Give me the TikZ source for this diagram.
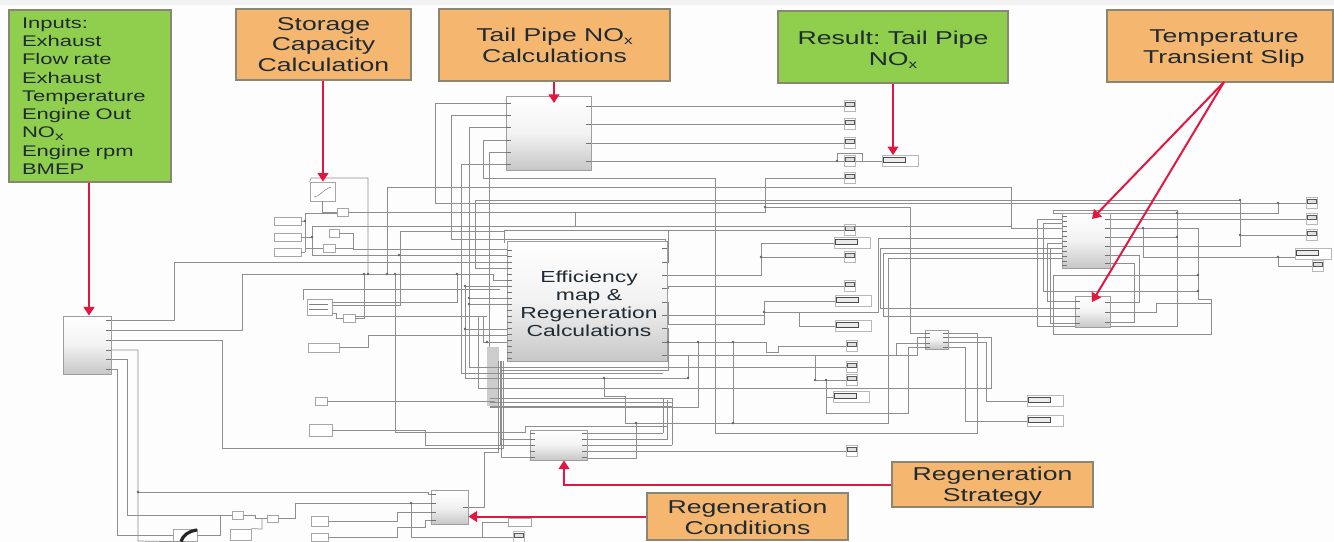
\documentclass[tikz,border=0pt]{standalone}
\usepackage{fontspec}
\usetikzlibrary{arrows.meta}
\setmainfont{Liberation Sans}
\newfontfamily\lab[FakeStretch=1.43]{Liberation Sans}
\definecolor{orangebox}{HTML}{F5B76F}
\definecolor{greenbox}{HTML}{90CF4E}
\definecolor{edgebox}{HTML}{8A8672}
\definecolor{redarrow}{HTML}{E2163F}
\definecolor{wiregrey}{HTML}{8E8E8E}
\definecolor{inkdark}{HTML}{1F2A33}
\definecolor{pagebg}{HTML}{FDFDFD}
\newcommand{\subx}{\raisebox{-0.35ex}{\fontsize{9}{9}\selectfont x}}
\newcommand{\boxat}[7]{%
  \pgfmathsetmacro\bw{(#4-#2)*0.75}\pgfmathsetmacro\bh{(#5-#3)*0.75}%
  \node[#6,minimum width=\bw pt,minimum height=\bh pt,inner sep=0pt] (#1) at ({(#2+#4)/2},{(#3+#5)/2}) {#7};}
\newcommand{\sink}[3]{\node[sinksm] (#1) at (#2,#3) {};}
\newcommand{\sinkw}[3]{\node[sinkwd,anchor=west] (#1) at (#2,#3) {};}
\newcommand{\ticksleft}[2]{\foreach \ty in {#2} \draw[porttick] (#1,\ty) -- ++(5,0);}
\newcommand{\ticksright}[2]{\foreach \ty in {#2} \draw[porttick] (#1,\ty) -- ++(-5,0);}
\tikzset{
  label box/.style={draw=edgebox,line width=0.9pt,text=inkdark,align=center,font=\lab\fontsize{13.95}{15.6}\selectfont},
  orange box/.style={label box,fill=orangebox},
  green box/.style={label box,fill=greenbox},
  block/.style={draw=black!38,line width=0.6pt,top color=white,bottom color=black!22,middle color=white!95!black},
  smallbox/.style={draw=black!35,line width=0.5pt,fill=white},
  wire/.style={draw=wiregrey,line width=0.55pt},
  porttick/.style={draw=black!55,line width=0.5pt},
  redline/.style={draw=redarrow,line width=1.5pt,-{Triangle[length=6.5pt,width=8pt]}},
  sinksm/.style={draw=black!28,line width=0.5pt,fill=white,minimum width=8.25pt,minimum height=8.25pt,inner sep=0pt,
    path picture={\draw[black!65,fill=black!12,line width=0.5pt] ([xshift=0.8pt,yshift=-1.2pt]path picture bounding box.north west) rectangle ([xshift=-0.8pt,yshift=-4pt]path picture bounding box.north east);}},
  sinkwd/.style={draw=black!28,line width=0.5pt,fill=white,minimum width=27pt,minimum height=8.25pt,inner sep=0pt,
    path picture={\draw[black!70,fill=black!8,line width=0.6pt] ([xshift=0.6pt,yshift=-1.6pt]path picture bounding box.north west) rectangle ([xshift=-10pt,yshift=-5pt]path picture bounding box.north east);}},
  junction/.style={fill=black!60,draw=none,circle,minimum size=2pt,inner sep=0pt}
}
\begin{document}
\begin{tikzpicture}[x=0.75pt,y=-0.75pt]
\useasboundingbox (0,0) rectangle (1334,542);
\fill[pagebg] (0,0) rectangle (1334,542);
\fill[black!5] (0,0) rectangle (1334,5);

% ---- port coordinates
\foreach \n/\y in {1/103,2/115,3/127,4/140,5/152,6/164} \coordinate (tbi\n) at (506,\y);
\foreach \n/\y in {1/106,2/124,3/143,4/161} \coordinate (tbo\n) at (591,\y);
\foreach \n/\y in {1/320,2/330,3/340,4/350,5/359,6/369} \coordinate (ao\n) at (111,\y);
\foreach \n/\y in {1/248,2/262,3/275,4/288,5/302,6/315,7/328,8/342,9/355} \coordinate (co\n) at (664,\y);
\foreach \n/\y in {1/433,2/439,3/445,4/451,5/458} \coordinate (do\n) at (587,\y);
\foreach \n/\y in {1/333,2/337,3/342,4/347} \coordinate (ho\n) at (948,\y);
\foreach \n/\y in {1/333,2/337,3/343,4/347} \coordinate (hi\n) at (925,\y);
\foreach \n/\y in {1/213,2/219,3/228,4/237,5/246,6/255,7/263} \coordinate (fo\n) at (1110,\y);
\foreach \n/\y in {1/302,2/312,3/322} \coordinate (go\n) at (1110,\y);
\foreach \n/\y in {1/301,2/308,3/316,4/323} \coordinate (gi\n) at (1075,\y);
\foreach \n/\y in {1/213,2/219,3/223,4/228,5/238,6/243,7/248,8/253,9/258} \coordinate (fi\n) at (1062,\y);
\foreach \n/\y in {1/494,2/503,3/512,4/520} \coordinate (ei\n) at (431,\y);
\coordinate (eo) at (468,507);

% ---- small source boxes and sinks
\boxat{look1}{310}{182}{335}{201}{smallbox}{}
\boxat{look2}{307}{299}{332}{315}{smallbox}{}
\boxat{m1}{337}{208}{348}{216}{smallbox}{}
\boxat{m2}{329}{229}{339}{237}{smallbox}{}
\boxat{m3}{323}{244}{335}{252}{smallbox}{}
\boxat{m4}{343}{314}{355}{322}{smallbox}{}
\boxat{c1}{274}{217}{301}{225}{smallbox}{}
\boxat{c2}{274}{233}{301}{241}{smallbox}{}
\boxat{c3}{274}{248}{301}{256}{smallbox}{}
\boxat{c4}{308}{343}{339}{352}{smallbox}{}
\boxat{c5}{315}{397}{327}{405}{smallbox}{}
\boxat{c6}{309}{424}{332}{436}{smallbox}{}
\boxat{b1}{232}{511}{243}{519}{smallbox}{}
\boxat{b2}{267}{515}{278}{522}{smallbox}{}
\boxat{b3}{230}{529}{251}{540}{smallbox}{}
\boxat{b4}{311}{516}{328}{526}{smallbox}{}
\boxat{b5}{311}{533}{328}{541}{smallbox}{}
\boxat{b6}{508}{518}{531}{526}{smallbox}{}
\boxat{scope}{173}{529}{197}{541.5}{smallbox}{}
\sink{s1}{850}{106}\sink{s2}{850}{124}\sink{s3}{850}{143}\sink{s4}{850}{161}\sink{s5}{850}{178}
\sink{s6}{850}{230}\sink{s7}{850}{257}\sink{s8}{850}{286}\sink{s9}{852}{346}\sink{s10}{852}{367}\sink{s11}{852}{380}\sink{s12}{852}{451}
\sinkw{w0}{882}{161}\sinkw{w1}{834}{243}\sinkw{w2}{835}{301}\sinkw{w3}{835}{326}\sinkw{w4}{833}{397}
\sinkw{w5}{1027}{401}\sinkw{w6}{1027}{421}\sinkw{w7}{1295}{254}
\sink{r1}{1312}{203}\sink{r2}{1312}{219}\sink{r3}{1312}{235}\sink{r4}{1318}{266}\sink{b7}{519}{537}

% ---- thick bundle under the large block
\fill[black!20] (487,347) rectangle (499,406);

% ---- wires of block B
\draw[wire] (tbi1) -| (435,203) -- (r1);
\draw[wire] (tbi2) -| (451,239) -- (665,239) -- (665,248) -- (co1);
\draw[wire] (tbi3) -| (469,367) -- (s10);
\draw[wire] (tbi4) -| (483,178) -- (715,178) -- (715,433) -- (977,433) -- (977,333) -- (ho1);
\draw[wire] (tbi5) -| (489,347);
\draw[wire] (tbi6) -| (461,373) -- (663,373);
\draw[wire] (tbo1) -- (s1);
\draw[wire] (tbo2) -- (s2);
\draw[wire] (tbo3) -- (s3);
\draw[wire] (tbo4) -- (s4);
\draw[wire] (s4.east) -- (w0);
\draw[wire] (837,161) -- (837,153) -- (862,153) -- (862,161);
% ---- long horizontal buses
\draw[wire] (387,274) -- (387,187) -- (1011,187) -- (1011,228) -- (1198,228) -- (1198,299) -- (1211,299) -- (1211,334) -- (1053,334) -- (1053,275) -- (1198,275);
\draw[wire] (475,268) -- (475,200) -- (1240,200) -- (1240,246) -- (fo5);
\draw[wire] (475,268) -- (507,268);
\draw[wire] (765,207) -- (910,207) -- (910,333) -- (hi1);
\draw[wire] (m1) -- (765,212) -- (765,178) -- (s5);
\draw[wire] (575,212) -- (575,226);
\draw[wire] (312,226) -- (1011,226);
\draw[wire] (504,243) -- (504,230) -- (668,230) -- (668,262) -- (co2);
\draw[wire] (668,230) -- (s6);
% ---- left part, storage capacity
\draw[wire] (look1.north west) -- (311,178) -- (368,178) -- (368,274);
\draw[wire] (look1.south) |- (m1);
\draw[wire] (c1) -- (305,221);
\draw[wire] (305,252) -- (305,213) -- (337,213);
\draw[wire] (c3) -- (305,252);
\draw[wire] (c2) -- (312,237);
\draw[wire] (312,226) -- (312,255) -- (507,255);
\draw[wire] (m2) -- (353,233) -- (353,249) -- (507,249);
\draw[wire] (m3) -- (353,248);
\draw[wire] (305,248) -- (m3);
\draw[wire] (ao1) -| (174,262) -- (507,262);
\draw[wire] (ao2) -| (242,274) -- (493,274) -- (493,280) -- (507,280);
\draw[wire] (ao3) -| (222,448) -- (503,448) -- (503,361);
\draw[wire] (ao4) -| (138,541) -- (scope.south);
\draw[wire] (138,492) -- (428,492) -- (428,494) -- (ei1);
\draw[wire] (ao5) -| (127,515) -- (b1);
\draw[wire] (ao6) -| (117,535.25) -- (scope);
\draw[wire] (457,274) -- (457,302) -- (332,302);
\draw[wire] (364,274) -- (364,318) -- (m4);
\draw[wire] (395,274) -- (395,432) -- (525,432) -- (525,426) -- (667,426) -- (667,400);
\draw[wire] (c6) -- (425,430) -- (425,445) -- (500,445) -- (500,361);
\draw[wire] (303,300) -- (303,289) -- (500,289);
\draw[wire] (332,305) -- (400,305) -- (400,231) -- (504,231);
\draw[wire] (332,313) -- (336,313) -- (336,318) -- (m4);
\draw[wire] ([yshift=1.5pt]m4.east) -- (487,316);
\draw[wire] (478,316) -- (478,388) -- (991,388) -- (991,337) -- (ho2);
\draw[wire] (483,316) -- (483,342) -- (507,342);
\draw[wire] (c4) -| (368,335) -- (507,335);
\draw[wire] (c5) -- (495,401);
\draw[wire] (465,286) -- (465,378) -- (688,378) -- (688,355);
\draw[wire] (465,286) -- (507,286);
\draw[wire] (469,298) -- (507,298);
\draw[wire] (469,304) -- (507,304);
\draw[wire] (465,329) -- (507,329);
\draw[wire] (501,361) -- (501,457) -- (530,457);
\foreach \yy in {398,402,406} \draw[wire] (490,\yy) -- (672,\yy);
\draw[wire] (672,398) -- (672,445);
\draw[wire] (663,398) -- (663,433);
% ---- block D
\draw[wire] (do1) -- (663,433);
\draw[wire] (do2) -- (667,439) -- (667,400);
\draw[wire] (do3) -- (672,445);
\draw[wire] (do4) -- (s12);
\draw[wire] (do5) -- (636,458) -- (636,423);
\draw[wire] (604,378) -- (604,396) -- (625,396) -- (625,423) -- (888,423) -- (888,258) -- (fi9);
\draw[wire] (733,423) -- (733,342);
\draw[wire] (698,342) -- (698,407) -- (490,407);
\draw[wire] (eo) -| (484,452) -- (498,452) -- (498,361);
\draw[wire] (500,439) -- (530,439);
\draw[wire] (500,445) -- (530,445);
% ---- outputs of large block C
\draw[wire] (co3) -- (761,275) -- (761,243) -- (w1);
\draw[wire] (761,257) -- (s7);
\draw[wire] (co4) -- (668,288) -- (668,286) -- (s8);
\draw[wire] (co5) -- (668,302) -- (668,324) -- (764,324) -- (764,301) -- (w2);
\draw[wire] (co6) -- (764,315);
\draw[wire] (764,312) -- (878,312) -- (878,238) -- (fi5);
\draw[wire] (799,312) -- (799,326) -- (w3);
\draw[wire] (co7) -- (668,328) -- (668,370) -- (500,370);
\draw[wire] (co8) -- (766,342) -- (766,352) -- (778,352) -- (778,346) -- (s9);
\draw[wire] (co9) -- (815,355) -- (815,380) -- (s11);
\draw[wire] (815,355) -- (896,355) -- (896,343) -- (hi3);
\draw[wire] (896,355) -- (917,355) -- (917,337) -- (hi2);
\draw[wire] (826,380) -- (826,413) -- (908,413) -- (908,347) -- (hi4);
\draw[wire] (826,397) -- (w4);
\draw[wire] (ho3) -- (986,342) -- (986,401) -- (w5);
\draw[wire] (ho4) -- (965,347) -- (965,421) -- (w6);
% ---- right-hand part
\draw[wire] (880,308) -- (880,248) -- (fi7);
\draw[wire] (880,308) -- (gi2);
\draw[wire] (883,316) -- (883,253) -- (fi8);
\draw[wire] (883,316) -- (gi3);
\draw[wire] (fi1) -- (1053,213) -- (1053,210) -- (1177,210) -- (1177,326) -- (1037,326) -- (1037,219) -- (fi2);
\draw[wire] (fo1) -- (1278,213) -- (1278,203);
\draw[wire] (fo2) -- (r2);
\draw[wire] (1240,235) -- (r3);
\draw[wire] (fo3) -- (1143,228) -- (1143,257) -- (1295,257);
\draw[wire] (1278,257) -- (1278,266) -- (r4);
\draw[wire] (fo4) -- (1177,237);
\draw[wire] (fo6) -- (1139,255) -- (1139,302) -- (go1);
\draw[wire] (fo7) -- (1134,263) -- (1134,322) -- (go3);
\draw[wire] (1043,291) -- (1198,291);
\draw[wire] (1043,291) -- (1043,223) -- (fi3);
\draw[wire] (1047,243) -- (fi6);
\draw[wire] (1047,243) -- (1047,301) -- (gi1);
\draw[wire] (1050,248) -- (1050,323) -- (gi4);
\draw[wire] (go2) -- (1156,312) -- (1156,303) -- (1211,303);
% ---- bottom left
\draw[wire] (scope) -- (220,535.25) -- (220,515) -- (b1);
\draw[wire] (b1) -- (255,515) -- (255,518.5) -- (b2);
\draw[wire] (b2) -- (295,518.5) -- (295,503) -- (ei2);
\draw[wire] (b3.north east) -- (262,529) -- (262,518.5) -- (b2);
\draw[wire] (b4) -- (397,521) -- (397,512) -- (ei3);
\draw[wire] (b5) -- (397,537) -- (397,527) -- (425,527) -- (425,520) -- (ei4);
\draw[wire] (411,503) -- (411,537) -- (482,537) -- (482,522) -- (b6);
\draw[wire] (482,537) -- (b7);

% ---- blocks
\boxat{A}{63}{316}{111}{374}{block}{}
\boxat{B}{506}{96}{591}{170}{block}{}
\boxat{C}{507}{241}{667}{361}{block,text=inkdark,align=center,font=\lab\fontsize{12}{13.5}\selectfont}{\rule{0pt}{12.5pt}\hspace*{3pt}Efficiency\\\hspace*{3pt}map \&\\\hspace*{3pt}Regeneration\\\hspace*{3pt}Calculations}
\boxat{D}{530}{430}{587}{460}{block}{}
\boxat{E}{431}{490}{468}{524}{block}{}
\boxat{F}{1062}{213}{1110}{268}{block}{}
\boxat{G}{1075}{296}{1110}{327}{block}{}
\boxat{H}{925}{330}{948}{349}{block}{}
\ticksright{111}{320,330,340,350,359,369}
\ticksleft{506}{103,115,127,140,152,164}
\ticksright{591}{106,124,143,161}
\ticksleft{507}{250,256,262,268,274,280,286,292,298,304,310,316,322,328,334,340,346,352,358}
\ticksright{667}{248,262,275,288,302,315,328,342,355}
\ticksleft{530}{433,439,445,451,457}
\ticksright{587}{433,439,445,451,457}
\ticksleft{431}{494,503,512,520}
\ticksright{468}{507}
\ticksleft{1062}{216,221,226,231,236,241,246,251,256,261,265}
\ticksright{1110}{219,228,237,246,255,263}
\ticksleft{1075}{301,308,316,323}
\ticksright{1110}{302,312,322}
\ticksleft{925}{333,337,343,347}
\ticksright{948}{333,337,342,347}
% ---- inner details of the look-up blocks
\draw[black!50,line width=0.4pt] (314,197) .. controls (320,197) and (322,190) .. (331,187);
\draw[black!50,line width=0.5pt] (309,304) -- (328,304) (309,309) -- (328,309);
\draw[black!85,line width=2.4pt] (181,541.5) .. controls (183,535) and (189,531) .. (197,530);

% ---- junction dots
\foreach \jx/\jy in {368/274,387/274,395/274,457/274,364/274,305/221,399/255,312/237,138/492,411/503,1278/203,1240/200,1240/235,1177/213,1177/237,1198/275,1198/291,1278/257,1143/228,837/161,765/207,761/257,764/312,826/380,815/380,604/378,733/342,698/342,668/342,688/378,733/423,636/423,469/298,469/304,465/329,487/342,465/286}
  \node[junction] at (\jx,\jy) {};

% ---- annotation boxes
\boxat{inputs}{9}{10}{171}{182}{green box,align=left,text width=102pt,font=\lab\fontsize{11.55}{13.7}\selectfont}{Inputs:\\Exhaust\\Flow rate\\Exhaust\\Temperature\\Engine Out\\NO\subx\\Engine rpm\\BMEP}
\boxat{storage}{236}{9}{411}{80}{orange box}{Storage\\Capacity\\Calculation}
\boxat{tail}{439}{9}{670}{81}{orange box}{Tail Pipe NO\subx\\Calculations}
\boxat{result}{778}{11}{1008}{83}{green box}{\rule{0pt}{14.5pt}\frenchspacing Result: Tail Pipe\\NO\subx}
\boxat{temp}{1107}{10}{1333}{82}{orange box}{\rule{0pt}{13pt}\hspace*{6pt}Temperature\\\hspace*{6pt}Transient Slip}
\boxat{strategy}{892}{462}{1093}{507}{orange box}{\rule{0pt}{13pt}Regeneration\\Strategy}
\boxat{conditions}{647}{493}{848}{540}{orange box}{\rule{0pt}{11.5pt}Regeneration\\Conditions}

% ---- red arrows
\coordinate (tempfoot) at (1224,82);
\coordinate (tempF) at (1092,219);
\coordinate (tempG) at (1092,302);
\draw[redline] (inputs.south -| 89,0) -- (A.north -| 89,0);
\draw[redline] (storage.south -| 323,0) -- (look1.north -| 323,0);
\draw[redline] (tail.south -| 554,0) -- (554,103);
\draw[redline] (result.south -| 893,0) -- (w0.north -| 893,0);
\draw[redline] (tempfoot) -- (tempF);
\draw[redline] (tempfoot) -- (tempG);
\draw[redline] (strategy.west) -| (D.south -| 564,0);
\draw[redline] (conditions.west) -- (E.east |- conditions.west);
\end{tikzpicture}
\end{document}
